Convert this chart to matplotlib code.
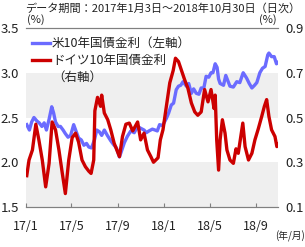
import pandas as pd
import matplotlib
matplotlib.use('Agg')
import matplotlib.pyplot as plt
from matplotlib.lines import Line2D

plt.rcParams['font.family'] = ['Noto Sans CJK JP', 'DejaVu Sans']

# US 10y yield (left axis, %)
us_dates = ['2017-01-03', '2017-01-10', '2017-01-16', '2017-01-22', '2017-01-30', '2017-02-05',
            '2017-02-12', '2017-02-18', '2017-02-24', '2017-03-03', '2017-03-10', '2017-03-15',
            '2017-03-20', '2017-03-27', '2017-04-02', '2017-04-09', '2017-04-15', '2017-04-22',
            '2017-04-29', '2017-05-07', '2017-05-13', '2017-05-20', '2017-05-27', '2017-06-03',
            '2017-06-10', '2017-06-16', '2017-06-23', '2017-07-01', '2017-07-07', '2017-07-14',
            '2017-07-20', '2017-07-27', '2017-08-04', '2017-08-13', '2017-08-20', '2017-08-28',
            '2017-09-05', '2017-09-10', '2017-09-18', '2017-09-26', '2017-10-05', '2017-10-14',
            '2017-10-23', '2017-10-31', '2017-11-09', '2017-11-15', '2017-11-22', '2017-12-01',
            '2017-12-08', '2017-12-14', '2017-12-20', '2017-12-28', '2018-01-07', '2018-01-13',
            '2018-01-20', '2018-01-26', '2018-02-02', '2018-02-08', '2018-02-14', '2018-02-20',
            '2018-03-01', '2018-03-07', '2018-03-14', '2018-03-20', '2018-03-27', '2018-04-03',
            '2018-04-09', '2018-04-16', '2018-04-22', '2018-04-29', '2018-05-05', '2018-05-10',
            '2018-05-16', '2018-05-21', '2018-05-25', '2018-05-29', '2018-06-07', '2018-06-13',
            '2018-06-24', '2018-07-03', '2018-07-12', '2018-07-20', '2018-07-29', '2018-08-07',
            '2018-08-14', '2018-08-21', '2018-08-28', '2018-09-03', '2018-09-11', '2018-09-18',
            '2018-09-25', '2018-10-02', '2018-10-05', '2018-10-12', '2018-10-19', '2018-10-25',
            '2018-10-30']
us_vals = [2.42, 2.36, 2.45, 2.50, 2.46, 2.44,
           2.40, 2.44, 2.36, 2.48, 2.62, 2.55,
           2.45, 2.40, 2.40, 2.36, 2.32, 2.28,
           2.30, 2.42, 2.35, 2.27, 2.25, 2.19,
           2.21, 2.17, 2.16, 2.25, 2.36, 2.34,
           2.30, 2.36, 2.30, 2.24, 2.20, 2.16,
           2.06, 2.12, 2.22, 2.29, 2.35, 2.33,
           2.40, 2.38, 2.36, 2.33, 2.35, 2.37,
           2.36, 2.35, 2.42, 2.41, 2.49, 2.55,
           2.64, 2.66, 2.81, 2.85, 2.86, 2.90,
           2.85, 2.88, 2.77, 2.82, 2.77, 2.76,
           2.83, 2.83, 2.96, 2.95, 3.00, 3.00,
           3.10, 3.06, 2.93, 2.88, 2.86, 2.97,
           2.85, 2.84, 2.90, 2.89, 3.00, 2.94,
           2.88, 2.83, 2.86, 2.89, 3.00, 3.05,
           3.07, 3.20, 3.22, 3.18, 3.18, 3.10,
           3.12]

# German 10y yield (right axis, %)
de_dates = ['2017-01-03', '2017-01-09', '2017-01-18', '2017-01-27', '2017-02-04', '2017-02-13',
            '2017-02-22', '2017-03-03', '2017-03-11', '2017-03-20', '2017-03-29', '2017-04-07',
            '2017-04-15', '2017-04-24', '2017-05-03', '2017-05-12', '2017-05-20', '2017-05-29',
            '2017-06-07', '2017-06-16', '2017-06-22', '2017-06-29', '2017-07-02', '2017-07-09',
            '2017-07-17', '2017-07-20', '2017-07-27', '2017-08-05', '2017-08-13', '2017-08-22',
            '2017-09-05', '2017-09-13', '2017-09-22', '2017-10-01', '2017-10-10', '2017-10-23',
            '2017-10-31', '2017-11-09', '2017-11-18', '2017-11-27', '2017-12-04', '2017-12-16',
            '2017-12-22', '2017-12-29', '2018-01-07', '2018-01-16', '2018-01-25', '2018-01-31',
            '2018-02-08', '2018-02-16', '2018-02-24', '2018-03-05', '2018-03-14', '2018-03-23',
            '2018-03-31', '2018-04-09', '2018-04-18', '2018-04-27', '2018-05-05', '2018-05-13',
            '2018-05-16', '2018-05-20', '2018-05-25', '2018-05-29', '2018-06-04', '2018-06-11',
            '2018-06-16', '2018-06-24', '2018-07-03', '2018-07-10', '2018-07-16', '2018-07-28',
            '2018-08-03', '2018-08-12', '2018-08-21', '2018-08-29', '2018-09-07', '2018-09-16',
            '2018-09-23', '2018-09-29', '2018-10-05', '2018-10-12', '2018-10-21', '2018-10-26',
            '2018-10-30']
de_vals = [0.24, 0.31, 0.355, 0.47, 0.40, 0.31,
           0.19, 0.295, 0.48, 0.445, 0.355, 0.25,
           0.16, 0.31, 0.41, 0.43, 0.39, 0.31,
           0.28, 0.26, 0.25, 0.31, 0.53, 0.59,
           0.55, 0.60, 0.52, 0.49, 0.445, 0.385,
           0.325, 0.415, 0.47, 0.475, 0.44, 0.48,
           0.40, 0.43, 0.355, 0.325, 0.30, 0.32,
           0.40, 0.445, 0.55, 0.655, 0.71, 0.765,
           0.75, 0.71, 0.67, 0.63, 0.565, 0.525,
           0.51, 0.525, 0.625, 0.57, 0.625, 0.54,
           0.60, 0.40, 0.265, 0.40, 0.49, 0.43,
           0.355, 0.31, 0.295, 0.36, 0.34, 0.475,
           0.37, 0.31, 0.34, 0.40, 0.45, 0.505,
           0.55, 0.58, 0.505, 0.445, 0.415, 0.37,
           0.38]

tick_dates = ['2017-01-01', '2017-05-01', '2017-09-01', '2018-01-01', '2018-05-01', '2018-09-01']
tick_labels = ['17/1', '17/5', '17/9', '18/1', '18/5', '18/9']
left_ticks = [1.5, 2.0, 2.5, 3.0, 3.5]
right_ticks = [0.1, 0.3, 0.5, 0.7, 0.9]

blue = '#6B6BFF'
red = '#CC0000'

fig = plt.figure(figsize=(3.05, 2.47), dpi=100)
ax = fig.add_axes([26/305, 1-207/247, 252/305, 179/247])
ax2 = ax.twinx()

ax.axhspan(1.5, 2.0, color='#EFEFEF', lw=0, zorder=0)
ax.axhspan(2.5, 3.0, color='#EFEFEF', lw=0, zorder=0)

ax.plot(pd.to_datetime(us_dates), us_vals, color=blue, lw=2.4, zorder=3)
ax2.plot(pd.to_datetime(de_dates), de_vals, color=red, lw=2.4, zorder=3)

ax.set_xlim(pd.Timestamp('2017-01-01'), pd.Timestamp('2018-10-29'))
ax.set_ylim(1.5, 3.5)
ax2.set_ylim(0.1, 0.9)
ax.set_yticks(left_ticks)
ax.set_yticklabels(['%.1f' % v for v in left_ticks])
ax2.set_yticks(right_ticks)
ax2.set_yticklabels(['%.1f' % v for v in right_ticks])
ax.set_xticks(pd.to_datetime(tick_dates))
ax.set_xticklabels(tick_labels)

for a in (ax, ax2):
    a.spines['left'].set_visible(False)
    a.spines['right'].set_visible(False)
    a.spines['top'].set_color('#808080')
    a.spines['bottom'].set_color('#808080')
    a.spines['top'].set_linewidth(0.8)
    a.spines['bottom'].set_linewidth(0.8)
    a.tick_params(axis='y', length=0, pad=5, labelsize=9.5, colors='#222222')
ax.tick_params(axis='x', direction='in', length=3, color='#808080', pad=9,
               labelsize=9, labelcolor='#222222')
ax.set_facecolor('none')
ax2.set_zorder(ax.get_zorder() + 1)

fig.text(0.985, 1-8/247, 'データ期間：2017年1月3日～2018年10月30日（日次）',
         ha='right', va='center', fontsize=8, color='#222222')
fig.text(27/305, 1-20/247, '(%)', ha='left', va='center', fontsize=8, color='#222222')
fig.text(277/305, 1-20/247, '(%)', ha='right', va='center', fontsize=8, color='#222222')
fig.text(1.0, 1-236/247, '(年/月)', ha='right', va='center', fontsize=7, color='#222222')

# legend drawn by hand
fig.add_artist(Line2D([32/305, 50/305], [1-43/247, 1-43/247], color=blue, lw=2.4))
fig.text(52/305, 1-43/247, '米10年国債金利（左軸）', ha='left', va='center',
         fontsize=9, color='#222222')
fig.add_artist(Line2D([32/305, 50/305], [1-60/247, 1-60/247], color=red, lw=2.4))
fig.text(52/305, 1-60/247, 'ドイツ10年国債金利', ha='left', va='center',
         fontsize=9, color='#222222')
fig.text(52/305, 1-77/247, '（右軸）', ha='left', va='center',
         fontsize=9, color='#222222')

fig.savefig('out.png', dpi=100)
